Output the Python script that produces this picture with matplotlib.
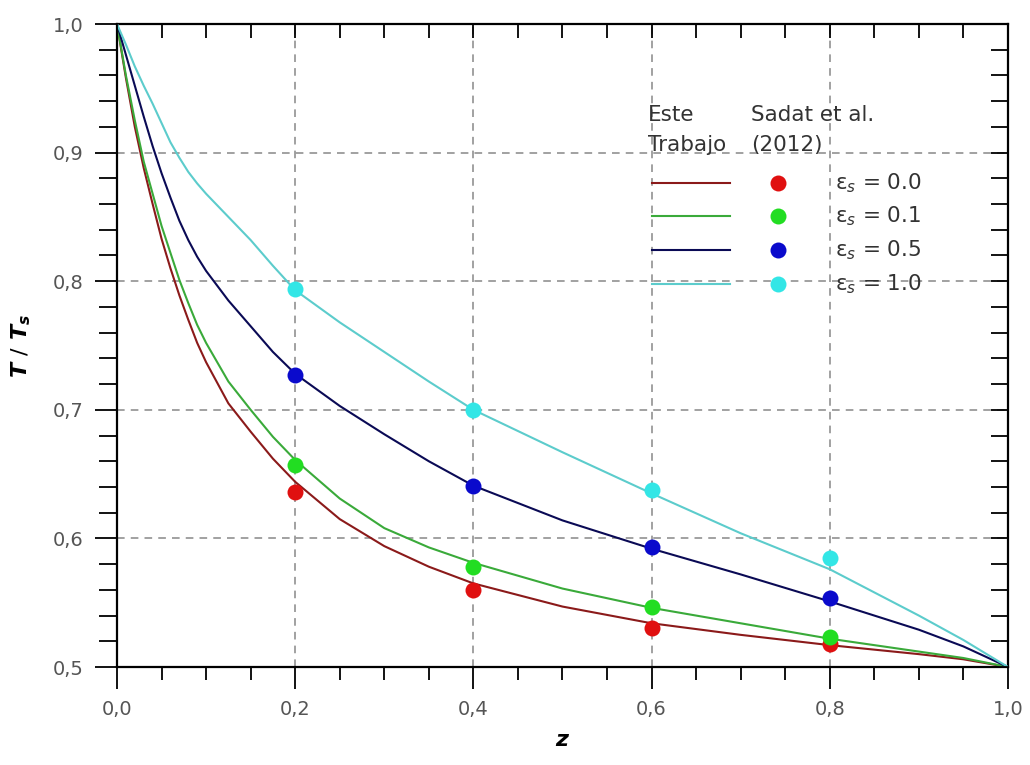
import numpy as np
import matplotlib.pyplot as plt
from matplotlib.ticker import MultipleLocator, FixedLocator, FixedFormatter

plt.rcParams['font.family'] = ['DejaVu Sans']
plt.rcParams['mathtext.fontset'] = 'custom'
plt.rcParams['mathtext.it'] = 'DejaVu Sans:italic:bold'
plt.rcParams['mathtext.rm'] = 'DejaVu Sans'
plt.rcParams['mathtext.sf'] = 'DejaVu Sans:italic'

# curvas "Este Trabajo"
z_linea = [0.0, 0.01, 0.02, 0.03, 0.04, 0.05, 0.06, 0.07, 0.08, 0.09, 0.1,
           0.125, 0.15, 0.175, 0.2, 0.25, 0.3, 0.35, 0.4, 0.5, 0.6, 0.7,
           0.8, 0.9, 0.95, 1.0]
T_eps00 = [1.0, 0.958, 0.920, 0.888, 0.860, 0.833, 0.810, 0.789, 0.770, 0.752,
           0.737, 0.705, 0.683, 0.662, 0.644, 0.615, 0.594, 0.578, 0.565,
           0.547, 0.534, 0.525, 0.517, 0.510, 0.506, 0.5]
T_eps01 = [1.0, 0.960, 0.925, 0.893, 0.868, 0.843, 0.822, 0.801, 0.783, 0.766,
           0.752, 0.722, 0.700, 0.679, 0.661, 0.631, 0.608, 0.593, 0.581,
           0.561, 0.546, 0.534, 0.522, 0.512, 0.507, 0.5]
T_eps05 = [1.0, 0.976, 0.952, 0.928, 0.905, 0.884, 0.865, 0.847, 0.832, 0.819,
           0.808, 0.785, 0.765, 0.745, 0.728, 0.703, 0.681, 0.660, 0.641,
           0.614, 0.592, 0.572, 0.551, 0.529, 0.516, 0.5]
T_eps10 = [1.0, 0.984, 0.967, 0.952, 0.938, 0.923, 0.908, 0.896, 0.885, 0.876,
           0.868, 0.850, 0.832, 0.812, 0.793, 0.768, 0.745, 0.722, 0.700,
           0.667, 0.635, 0.604, 0.576, 0.540, 0.521, 0.5]

# puntos Sadat et al. (2012)
z_sadat = [0.2, 0.4, 0.6, 0.8]
S_eps00 = [0.636, 0.560, 0.530, 0.518]
S_eps01 = [0.657, 0.578, 0.547, 0.523]
S_eps05 = [0.727, 0.641, 0.593, 0.554]
S_eps10 = [0.794, 0.700, 0.638, 0.585]

etiquetas = ['0.0', '0.1', '0.5', '1.0']
x_ticks = [0.0, 0.2, 0.4, 0.6, 0.8, 1.0]
x_labels = ['0,0', '0,2', '0,4', '0,6', '0,8', '1,0']
y_ticks = [0.5, 0.6, 0.7, 0.8, 0.9, 1.0]
y_labels = ['0,5', '0,6', '0,7', '0,8', '0,9', '1,0']

col_linea = ['#8b1a1a', '#3aaa3a', '#0a0a55', '#5ccccc']
col_punto = ['#e01010', '#22dd22', '#0a0acc', '#33e6e6']

pos = [0.1136, 0.1281, 0.865, 0.8405]
fig = plt.figure(figsize=(10.3, 7.65), dpi=100)
ax = fig.add_axes(pos)

curvas = [T_eps00, T_eps01, T_eps05, T_eps10]
puntos = [S_eps00, S_eps01, S_eps05, S_eps10]
for i in range(4):
    ax.plot(z_linea, curvas[i], color=col_linea[i], lw=1.5, zorder=3)
    ax.plot(z_sadat, puntos[i], 'o', color=col_punto[i], ms=11.5, mec='none', zorder=4)

ax.set_xlim(0, 1)
ax.set_ylim(0.5, 1.0)
ax.xaxis.set_major_locator(FixedLocator(x_ticks))
ax.xaxis.set_major_formatter(FixedFormatter(x_labels))
ax.yaxis.set_major_locator(FixedLocator(y_ticks))
ax.yaxis.set_major_formatter(FixedFormatter(y_labels))
ax.xaxis.set_minor_locator(MultipleLocator(0.05))
ax.yaxis.set_minor_locator(MultipleLocator(0.02))
ax.tick_params(which='major', direction='out', length=16, width=1.3,
               labelsize=14, labelcolor='#555555', pad=8)
ax.tick_params(which='minor', direction='out', length=9, width=1.3)
ax.tick_params(axis='y', which='minor', length=13)
ax.grid(True, which='major', ls=(0, (5, 4)), color='#888888', lw=1.1)
for s in ax.spines.values():
    s.set_linewidth(1.6)

# ticks interiores arriba y a la derecha (eje superpuesto sin marco)
ax2 = fig.add_axes(pos, frameon=False)
ax2.set_xlim(0, 1)
ax2.set_ylim(0.5, 1.0)
ax2.xaxis.set_major_locator(FixedLocator(x_ticks))
ax2.yaxis.set_major_locator(FixedLocator(y_ticks))
ax2.xaxis.set_minor_locator(MultipleLocator(0.05))
ax2.yaxis.set_minor_locator(MultipleLocator(0.02))
ax2.tick_params(which='both', direction='in', width=1.3,
                bottom=False, left=False, top=True, right=True,
                labelbottom=False, labelleft=False)
ax2.tick_params(axis='x', which='both', length=10)
ax2.tick_params(axis='y', which='both', length=12)

ax.set_xlabel('$z$', fontsize=16, labelpad=8)
ax.set_ylabel('$T\\ /\\ T_s$', fontsize=16, labelpad=14)

# leyenda manual
tr = ax.transAxes
fs = 15.5
ax.text(0.596, 0.858, 'Este', transform=tr, fontsize=fs, color='#333333', va='center')
ax.text(0.596, 0.812, 'Trabajo', transform=tr, fontsize=fs, color='#333333', va='center')
ax.text(0.712, 0.858, 'Sadat et al.', transform=tr, fontsize=fs, color='#333333', va='center')
ax.text(0.712, 0.812, '(2012)', transform=tr, fontsize=fs, color='#333333', va='center')
filas = [0.753, 0.701, 0.649, 0.596]
for i in range(4):
    ax.plot([0.600, 0.688], [filas[i], filas[i]], color=col_linea[i], lw=1.5,
            transform=tr, zorder=5)
    ax.plot([0.742], [filas[i]], 'o', color=col_punto[i], ms=11.5, mec='none',
            transform=tr, zorder=5)
    ax.text(0.806, filas[i], 'ε$_\\mathsf{s}$ = ' + etiquetas[i], transform=tr,
            fontsize=fs, color='#333333', va='center')

fig.savefig('out.png', dpi=100)
